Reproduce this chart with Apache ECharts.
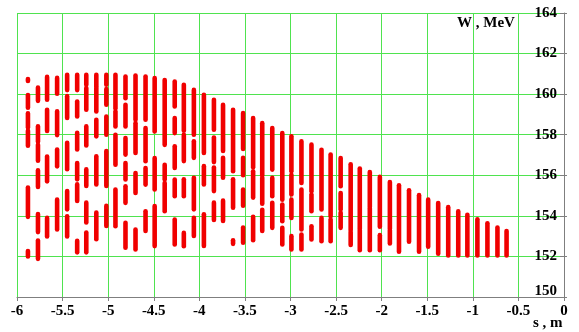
<!DOCTYPE html>
<html>
<head>
<meta charset="utf-8">
<script src="https://cdn.jsdelivr.net/npm/echarts@6/dist/echarts.min.js"></script>
<style>
html,body{margin:0;padding:0;background:#fff;}
#chart{width:579px;height:332px;}
</style>
</head>
<body>
<div id="chart"></div>
<script>
// Longitudinal positions of the bunch columns, s (m)
const sPos = [-5.88,-5.77,-5.67,-5.56,-5.45,-5.34,-5.24,-5.13,-5.02,-4.92,
  -4.81,-4.70,-4.59,-4.49,-4.38,-4.27,-4.17,-4.06,-3.95,-3.84,
  -3.74,-3.63,-3.52,-3.41,-3.31,-3.20,-3.09,-2.99,-2.88,-2.77,
  -2.66,-2.56,-2.45,-2.34,-2.24,-2.13,-2.02,-1.91,-1.81,-1.70,
  -1.59,-1.49,-1.38,-1.27,-1.16,-1.06,-0.95,-0.84,-0.73,-0.63];

// Energy ranges [W high, W low] (MeV) occupied in each column
const bunches = [
  [[160.75,160.65],[159.95,159.33],[159.05,158.36],[158.2,157.46],[155.4,153.95],[152.27,152.0]],
  [[160.32,159.67],[158.41,157.65],[157.5,156.72],[156.24,155.42],[154.09,153.2],[152.78,151.88]],
  [[160.85,159.72],[159.23,158.18],[156.92,155.7],[153.9,152.98]],
  [[160.8,160.02],[159.15,157.98],[157.27,156.44],[154.8,153.33]],
  [[160.95,160.2],[159.9,158.83],[157.6,156.3],[155.22,154.32],[153.98,152.98]],
  [[160.95,160.2],[159.64,158.9],[158.1,157.27],[156.6,155.8],[155.55,154.73],[152.77,152.2]],
  [[160.95,160.46],[160.3,159.23],[158.41,157.47],[156.29,155.47],[154.65,153.67],[153.18,152.2]],
  [[160.95,160.38],[160.3,159.15],[158.74,157.92],[156.94,155.55],[154.16,152.85]],
  [[160.95,160.46],[160.25,159.48],[158.9,158.0],[157.2,155.47],[154.49,153.5]],
  [[160.95,159.31],[159.15,158.41],[158.0,156.52],[155.3,153.49]],
  [[160.87,159.8],[159.48,158.41],[157.84,157.02],[156.6,155.79],[155.46,154.64],[153.66,152.43]],
  [[160.92,158.74],[158.57,157.1],[156.11,155.13],[153.33,152.34]],
  [[160.87,158.74],[158.33,156.69],[156.36,155.54],[154.23,153.25]],
  [[160.79,158.16],[156.85,155.3],[154.48,152.51]],
  [[160.7,157.5],[156.52,155.79],[155.62,154.23]],
  [[160.62,159.39],[158.82,158.08],[157.43,156.36],[155.79,154.97],[153.82,152.59]],
  [[160.46,158.2],[158.0,156.7],[155.8,154.97],[153.16,152.5]],
  [[160.21,158.0],[157.68,156.86],[155.88,154.32],[153.91,153.01]],
  [[159.97,157.1],[156.45,155.55],[154.08,152.52]],
  [[159.72,158.25],[157.86,156.65],[156.38,155.22],[154.65,153.8]],
  [[159.48,157.2],[156.86,155.88],[154.75,153.75]],
  [[159.23,156.2],[155.8,154.4],[152.8,152.62]],
  [[159.07,157.3],[156.86,156.0],[155.3,154.5],[153.42,152.68]],
  [[158.82,156.4],[156.2,154.9],[153.95,152.8]],
  [[158.57,156.0],[155.88,154.6],[154.3,153.25]],
  [[158.33,156.28],[155.87,154.97],[154.64,153.41]],
  [[158.08,154.8],[154.56,153.74],[153.41,152.59]],
  [[157.92,156.2],[156.03,155.05],[154.8,153.9],[153.0,152.34]],
  [[157.67,155.62],[155.3,153.33],[153.08,152.34]],
  [[157.51,155.21],[155.05,154.23],[153.49,152.84]],
  [[157.26,154.31],[153.9,152.75]],
  [[157.02,153.98],[153.82,152.75]],
  [[156.85,155.46],[155.13,154.31],[154.15,153.41]],
  [[156.54,153.3],[153.21,152.56]],
  [[156.33,153.38],[153.3,152.31]],
  [[156.16,154.44],[154.36,152.31]],
  [[155.92,153.46],[153.05,152.31]],
  [[155.67,153.38],[153.3,152.64]],
  [[155.51,152.23]],
  [[155.26,152.72]],
  [[155.02,152.23]],
  [[154.8,152.48]],
  [[154.63,152.13]],
  [[154.43,152.05]],
  [[154.22,152.05]],
  [[154.05,152.05]],
  [[153.83,152.05]],
  [[153.63,152.05]],
  [[153.42,152.05]],
  [[153.25,152.05]]
];

const xTicks = [-6,-5.5,-5,-4.5,-4,-3.5,-3,-2.5,-2,-1.5,-1,-0.5,0];
const yTicks = [150,152,154,156,158,160,162,164];

const segData = [];
sPos.forEach((s, i) => {
  bunches[i].forEach(seg => segData.push([s, seg[1], seg[0]]));
});

const FONT = '"Liberation Serif","Times New Roman",serif';
const GRID_GREEN = '#4fe34f';
const AXIS_GRAY = '#7f7f7f';

const chart = echarts.init(document.getElementById('chart'), null, {renderer: 'canvas'});
chart.setOption({
  animation: false,
  backgroundColor: '#fff',
  grid: {left: 17, right: 15, top: 13, bottom: 35, containLabel: false},
  xAxis: {
    type: 'value', min: xTicks[0], max: xTicks[xTicks.length - 1], interval: 0.5,
    axisLine: {show: true, lineStyle: {color: AXIS_GRAY, width: 1}},
    axisTick: {show: true, length: 4, lineStyle: {color: AXIS_GRAY}},
    splitLine: {show: true, lineStyle: {color: GRID_GREEN, width: 1}},
    axisLabel: {color: '#000', fontFamily: FONT, fontWeight: 'bold', fontSize: 15, margin: 7,
      formatter: v => String(v)}
  },
  yAxis: [{
    type: 'value', position: 'right', min: yTicks[0], max: yTicks[yTicks.length - 1], interval: 2,
    axisLine: {show: true, onZero: false, lineStyle: {color: AXIS_GRAY, width: 1}},
    axisTick: {show: true, length: 3, lineStyle: {color: AXIS_GRAY}},
    splitLine: {show: true, lineStyle: {color: GRID_GREEN, width: 1}},
    axisLabel: {inside: true, color: '#000', fontFamily: FONT, fontWeight: 'bold', fontSize: 15, margin: 7,
      formatter: v => (v === yTicks[0] ? '{lo|' + v + '}' : String(v)),
      rich: {lo: {fontFamily: FONT, fontWeight: 'bold', fontSize: 15, color: '#000', padding: [0, 0, 12, 0]}}}
  }, {
    type: 'value', position: 'right', min: yTicks[0], max: yTicks[yTicks.length - 1], interval: 2,
    axisLine: {show: false},
    axisTick: {show: true, inside: true, length: 4, lineStyle: {color: AXIS_GRAY}},
    splitLine: {show: false},
    axisLabel: {show: false}
  }],
  graphic: [
    {type: 'text', left: 457, top: 16, style: {text: 'W , MeV', font: 'bold 15px ' + FONT, fill: '#000'}},
    {type: 'text', left: 533, top: 316, style: {text: 's , m', font: 'bold 15px ' + FONT, fill: '#000'}}
  ],
  series: [{
    type: 'custom',
    data: segData,
    encode: {x: 0, y: [1, 2]},
    clip: true,
    renderItem: function (params, api) {
      const s = api.value(0);
      const p1 = api.coord([s, api.value(1)]);
      const p2 = api.coord([s, api.value(2)]);
      return {
        type: 'line',
        shape: {x1: p1[0], y1: p1[1], x2: p2[0], y2: p2[1]},
        style: {stroke: '#f00000', lineWidth: 4.6, lineCap: 'round'}
      };
    }
  }]
});
</script>
</body>
</html>
